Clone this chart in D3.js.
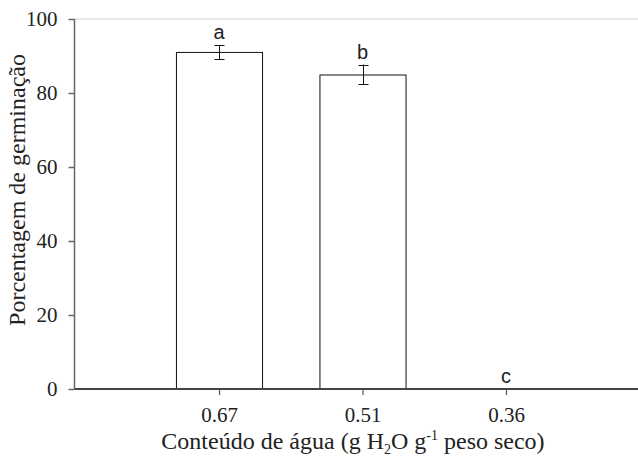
<!DOCTYPE html>
<html>
<head>
<meta charset="utf-8">
<script src="https://cdn.jsdelivr.net/npm/d3@7"></script>
<style>
html, body { margin: 0; padding: 0; background: #fff; }
svg { display: block; overflow: hidden; }
.serif { font-family: 'Liberation Serif', 'Times New Roman', serif; }
.sans { font-family: 'Liberation Sans', Arial, sans-serif; }
</style>
</head>
<body>
<svg id="chart" width="638" height="458"></svg>
<script>
const categories = ["0.67", "0.51", "0.36"];
const values = [91.1, 85.0, 0];
const errors = [1.9, 2.7, 0];
const letters = ["a", "b", "c"];
const yTicks = [0, 20, 40, 60, 80, 100];

const W = 638, H = 458;
const svg = d3.select("#chart");

const x = d3.scaleLinear().domain([0, 4]).range([75.5, 649.5]);
const y = d3.scaleLinear().domain([0, 100]).range([389, 19]);
const half = 0.3;

// top light frame line
svg.append("line")
  .attr("x1", x(0)).attr("x2", W)
  .attr("y1", y(100)).attr("y2", y(100))
  .attr("stroke", "#d0d0d0").attr("stroke-width", 1);

// bars
svg.append("g").selectAll("rect.bar").data(values).join("rect")
  .attr("class", "bar")
  .filter(d => d > 0)
  .attr("x", (d, i) => x(i + 1 - half) + 0.5)
  .attr("width", (d, i) => x(i + 1 + half) - x(i + 1 - half))
  .attr("y", d => y(d) + 0.5)
  .attr("height", d => y(0) - y(d))
  .attr("fill", "#fff").attr("stroke", "#111").attr("stroke-width", 1);

// error bars
values.forEach((v, i) => {
  if (errors[i] <= 0) return;
  const cx = Math.round(x(i + 1)) + 0.5;
  const cap = 5;
  svg.append("line").attr("x1", cx).attr("x2", cx)
    .attr("y1", y(v + errors[i])).attr("y2", y(v - errors[i]))
    .attr("stroke", "#111");
  [v + errors[i], v - errors[i]].forEach(e => {
    svg.append("line").attr("x1", cx - cap).attr("x2", cx + cap)
      .attr("y1", Math.round(y(e)) + 0.5).attr("y2", Math.round(y(e)) + 0.5)
      .attr("stroke", "#111");
  });
});

// letters
svg.selectAll("text.letter").data(letters).join("text")
  .attr("class", "letter sans")
  .attr("x", (d, i) => x(i + 1))
  .attr("y", (d, i) => y(values[i] + errors[i]) - 6)
  .attr("text-anchor", "middle")
  .style("font-size", "20px")
  .attr("fill", "#222")
  .text(d => d);

// y axis
const yAxis = svg.append("g")
  .attr("transform", `translate(${x(0) - 1},0)`)
  .call(d3.axisLeft(y).tickValues(yTicks).tickSize(6).tickPadding(11));
yAxis.attr("font-family", null).attr("font-size", null);
yAxis.select(".domain").attr("stroke", "#666").attr("stroke-width", 1.5)
  .attr("d", `M0,${y(100)}V${y(0)}`);
yAxis.selectAll(".tick line").attr("stroke", "#666").attr("stroke-width", 1.5);
yAxis.selectAll(".tick text")
  .attr("class", "serif")
  .style("font-size", "21px").attr("fill", "#222");

// x axis
const xAxis = svg.append("g")
  .attr("transform", `translate(0,${y(0)})`)
  .call(d3.axisBottom(x).tickValues([1, 2, 3]).tickFormat((d, i) => categories[i]).tickSize(6).tickPadding(12));
xAxis.attr("font-family", null).attr("font-size", null);
xAxis.select(".domain").attr("stroke", "#444").attr("stroke-width", 2)
  .attr("d", `M${x(0) - 1},0H${W}`);
xAxis.selectAll(".tick line").attr("stroke", "#555").attr("stroke-width", 1.2);
xAxis.selectAll(".tick text")
  .attr("class", "serif")
  .style("font-size", "21px").attr("fill", "#222");

// x axis title
const xt = svg.append("text")
  .attr("class", "serif")
  .attr("x", 353).attr("y", 449)
  .attr("text-anchor", "middle")
  .style("font-size", "24px").attr("fill", "#222");
xt.append("tspan").text("Conteúdo de água (g H");
xt.append("tspan").style("font-size", "14px").attr("dy", 5).text("2");
xt.append("tspan").attr("dy", -5).text("O g");
xt.append("tspan").style("font-size", "14px").attr("dy", -9).text("-1");
xt.append("tspan").attr("dy", 9).text(" peso seco)");

// y axis title
svg.append("text")
  .attr("class", "serif")
  .attr("transform", "translate(25,190) rotate(-90)")
  .attr("text-anchor", "middle")
  .style("font-size", "24px").attr("fill", "#222")
  .text("Porcentagem de germinação");
</script>
</body>
</html>
